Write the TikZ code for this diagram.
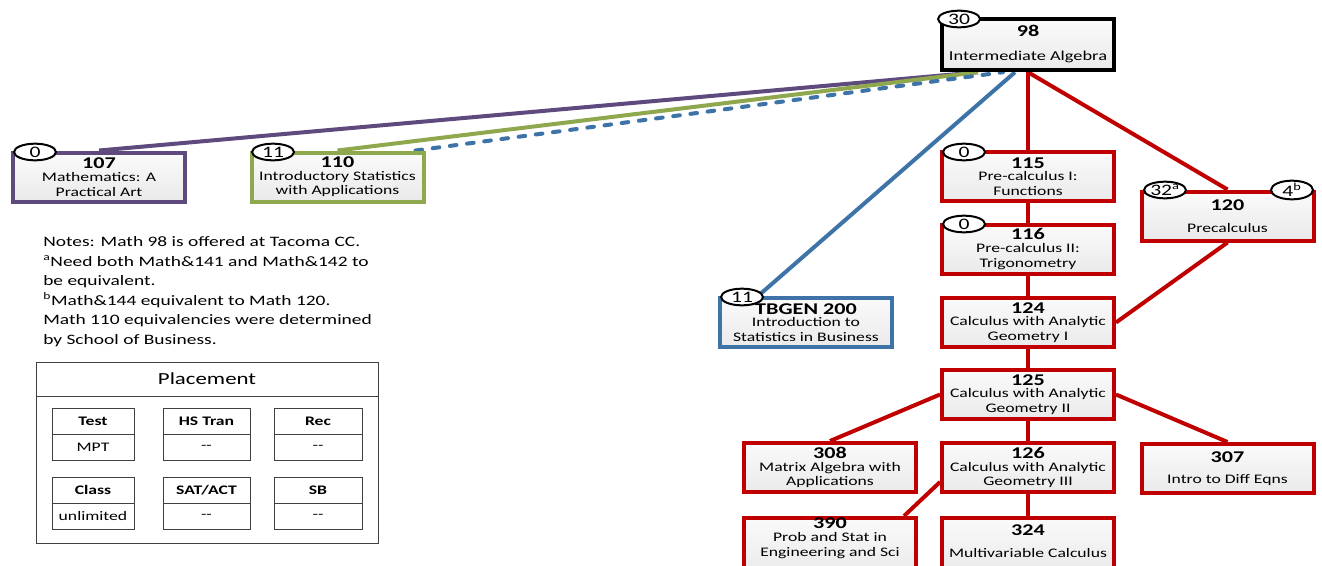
\documentclass[tikz,border=0pt]{standalone}
\usepackage{fontspec}
\setmainfont{Carlito}[FakeStretch=1.35]
\usetikzlibrary{shapes.geometric,calc,backgrounds}
\definecolor{cred}{HTML}{C00000}
\definecolor{cpurple}{HTML}{5F4A7E}
\definecolor{cgreen}{HTML}{8FA84E}
\definecolor{cblue}{HTML}{3E73A8}
\definecolor{cgrid}{HTML}{404040}
\definecolor{boxtop}{HTML}{FAFAFA}
\definecolor{boxbot}{HTML}{EAEAEA}
\newcommand\cnum[1]{{\fontsize{12.3}{12.5}\selectfont\bfseries #1}}
\newcommand\dd{\mbox{-}\mbox{-}}
\tikzset{
  course/.style={draw=#1, line width=3pt, top color=boxtop, bottom color=boxbot,
    minimum width=129pt, minimum height=36.75pt, inner sep=0pt, align=center,
    font=\fontsize{9.8}{11}\selectfont},
  link/.style={draw=#1, line width=3pt},
  badge/.style={draw=black, line width=1.5pt, fill=white, ellipse, minimum width=31.5pt,
    minimum height=12.5pt, inner sep=0pt, font=\fontsize{12}{12}\selectfont},
  cell/.style={draw=cgrid, line width=0.75pt, minimum height=19.5pt, inner sep=0pt,
    font=\fontsize{9.8}{10}\selectfont},
}
\begin{document}
\begin{tikzpicture}[x=0.75pt,y=-0.75pt]
\useasboundingbox (0,0) rectangle (1322,565);
\clip (0,0) rectangle (1322,565);
% course boxes
\node[course=black, line width=3.3pt, minimum height=38.25pt, font=\fontsize{10.2}{11}\selectfont] (n98) at (1028,44.5) {\cnum{98}\\[7pt]Intermediate Algebra};
\node[course=cpurple] (n107) at (99,177) {\cnum{107}\\[-1.5pt]Mathematics: A\\Practical Art};
\node[course=cgreen] (n110) at (337.5,177) {\cnum{110}\\[-1.5pt]Introductory Statistics\\with Applications};
\node[course=cred] (n115) at (1028,176.5) {\cnum{115}\\[-1.5pt]Pre-calculus I:\\Functions};
\node[course=cred] (n116) at (1028,249) {\cnum{116}\\[-1.5pt]Pre-calculus II:\\Trigonometry};
\node[course=cred] (n120) at (1227.5,216) {\cnum{120}\\[5pt]Precalculus};
\node[course=cblue] (ntb) at (806,322.5) {\cnum{TBGEN 200}\\[-1.5pt]Introduction to\\Statistics in Business};
\node[course=cred] (n124) at (1028,322.5) {\cnum{124}\\[-1.5pt]Calculus with Analytic\\Geometry I};
\node[course=cred] (n125) at (1028,394.5) {\cnum{125}\\[-1.5pt]Calculus with Analytic\\Geometry II};
\node[course=cred] (n308) at (830,467.5) {\cnum{308}\\[-1.5pt]Matrix Algebra with\\Applications};
\node[course=cred] (n126) at (1028,467.5) {\cnum{126}\\[-1.5pt]Calculus with Analytic\\Geometry III};
\node[course=cred] (n307) at (1227.5,468.5) {\cnum{307}\\[5pt]Intro to Diff Eqns};
\node[course=cred, minimum height=40.5pt, anchor=north] (n390) at (830,516) {\cnum{390}\\[-1.5pt]Prob and Stat in\\Engineering and Sci\\[3pt]\mbox{}};
\node[course=cred, minimum height=40.5pt, anchor=north] (n324) at (1028,516) {\cnum{324}\\[5pt]Multivariable Calculus\rule[-6pt]{0pt}{6pt}};
% badges
\node[badge] (b98) at (959,19) {30};
\node[badge] (b107) at (35,152) {0};
\node[badge] (b110) at (273,152) {11};
\node[badge] (b115) at (964,152) {0};
\node[badge] (b116) at (964,224) {0};
\node[badge] (btb) at (742,297) {11};
\node[badge] (b120a) at (1165,190) {32\textsuperscript{a}};
\node[badge] (b120b) at (1292,190) {4\textsuperscript{b}};
% connectors
\begin{pgfonlayer}{background}
\draw[link=cpurple] (n107.north) -- ($(n98.south)+(-50,0)$);
\draw[link=cgreen] (n110.north) -- ($(n98.south)+(-50,0)$);
\draw[link=cblue, line cap=round, dash pattern=on 5pt off 8pt] ($(n110.north east)+(-10,0)$) -- ($(n98.south)+(-25,0)$);
\draw[link=cblue] ($(ntb.north)+(-48,0)$) -- ($(n98.south)+(-13,0)$);
\draw[link=cred] (n98.south) -- (n115.north);
\draw[link=cred] (n98.south) -- (n120.north);
\draw[link=cred] (n115.south) -- (n116.north);
\draw[link=cred] (n116.south) -- (n124.north);
\draw[link=cred] (n120.south) -- (n124.east);
\draw[link=cred] (n124.south) -- (n125.north);
\draw[link=cred] (n125.west) -- (n308.north);
\draw[link=cred] (n125.east) -- (n307.north);
\draw[link=cred] (n125.south) -- (n126.north);
\draw[link=cred] ($(n126.south west)+(0,-12)$) -- ($(n390.north east)+(-14,0)$);
\draw[link=cred] (n126.south) -- (n324.north);
\end{pgfonlayer}
% notes
\node[anchor=north west, align=left, inner sep=0pt, font=\fontsize{10.8}{14.6}\selectfont] (notes) at (43,236.5)
  {Notes: Math 98 is offered at Tacoma CC.\\
   \textsuperscript{a}Need both Math\&141 and Math\&142 to\\
   be equivalent.\\
   \textsuperscript{b}Math\&144 equivalent to Math 120.\\
   Math 110 equivalencies were determined\\
   by School of Business.};
% placement
\node[draw=cgrid, line width=0.75pt, minimum width=256.5pt, minimum height=135.75pt, inner sep=0pt] (place) at (207,452.5) {};
\draw[cgrid, line width=0.75pt] (place.west |- 0,396) -- (place.east |- 0,396);
\node[font=\fontsize{12.7}{13}\selectfont] (ptitle) at (207,379) {Placement};
\node[cell, minimum width=61.5pt] (ctest) at (93,421) {\textbf{Test}};
\node[cell, minimum width=61.5pt] (vtest) at (93,447) {MPT};
\node[cell, minimum width=65.25pt] (chs) at (206.5,421) {\textbf{HS Tran}};
\node[cell, minimum width=65.25pt] (vhs) at (206.5,447) {\dd};
\node[cell, minimum width=66pt] (crec) at (318,421) {\textbf{Rec}};
\node[cell, minimum width=66pt] (vrec) at (318,447) {\dd};
\node[cell, minimum width=61.5pt] (ccls) at (93,490) {\textbf{Class}};
\node[cell, minimum width=61.5pt] (vcls) at (93,516) {unlimited};
\node[cell, minimum width=65.25pt] (csat) at (206.5,490) {\textbf{SAT/ACT}};
\node[cell, minimum width=65.25pt] (vsat) at (206.5,516) {\dd};
\node[cell, minimum width=66pt] (csb) at (318,490) {\textbf{SB}};
\node[cell, minimum width=66pt] (vsb) at (318,516) {\dd};
\end{tikzpicture}
\end{document}
